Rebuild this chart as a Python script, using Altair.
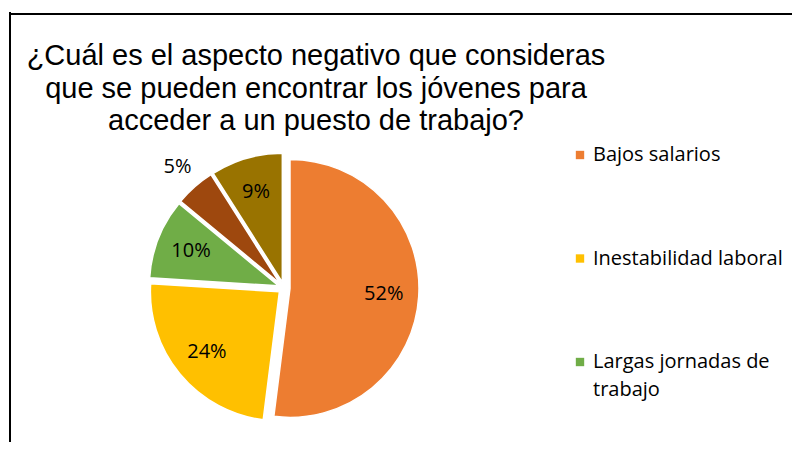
import altair as alt
import pandas as pd

# ---- data ----
categories = ["Bajos salarios", "Inestabilidad laboral", "Largas jornadas de trabajo",
              "Falta de experiencia", "Otros"]
values = [52, 24, 10, 5, 9]
labels = ["52%", "24%", "10%", "5%", "9%"]
colors = ["#ED7D31", "#FFC000", "#70AD47", "#9E480E", "#997300"]
title_lines = ["¿Cuál es el aspecto negativo que consideras",
               "que se pueden encontrar los jóvenes para",
               "acceder a un puesto de trabajo?"]
legend_shown = categories[:3]

df = pd.DataFrame({"cat": categories, "value": values, "label": labels,
                   "order": list(range(len(categories)))})
title_df = pd.DataFrame({"line": title_lines, "i": list(range(len(title_lines)))})
legend_df = pd.DataFrame({"cat": legend_shown, "i": list(range(len(legend_shown)))})

# layout constants (plot-area pixels)
CX, CY, R, EXPLODE = 276, 140, 129, 6
LABEL_R, LABEL_R_OUT = 100, 161
TITLE_X, TITLE_Y0, TITLE_LH = 308, -83, 32.5
LEG_SYM_X, LEG_TXT_X, LEG_Y0, LEG_STEP = 572, 585, 7, 103.5

color_scale = alt.Scale(domain=categories, range=colors)

base = (
    alt.Chart(df)
    .transform_window(cum="sum(value)", sort=[alt.SortField("order")])
    .transform_joinaggregate(total="sum(value)")
    .transform_calculate(
        start="2*PI*(datum.cum - datum.value)/datum.total",
        end="2*PI*datum.cum/datum.total",
    )
    .transform_calculate(mid="(datum.start + datum.end)/2")
    .transform_calculate(
        cx=f"{CX} + {EXPLODE}*sin(datum.mid)",
        cy=f"{CY} - {EXPLODE}*cos(datum.mid)",
        lr=f"datum.value < 6 ? {LABEL_R_OUT} : {LABEL_R}",
    )
    .transform_calculate(
        tx=f"{CX} + datum.lr*sin(datum.mid)",
        ty=f"{CY} - datum.lr*cos(datum.mid)",
    )
)

arcs = base.mark_arc(radius=R, stroke="white", strokeWidth=1.5).encode(
    theta=alt.Theta("start:Q", scale=None, stack=None),
    theta2="end:Q",
    x=alt.X("cx:Q", scale=None, axis=None),
    y=alt.Y("cy:Q", scale=None, axis=None),
    color=alt.Color("cat:N", scale=color_scale, legend=None),
)

texts = base.mark_text(font="Open Sans", fontSize=20, color="black").encode(
    x=alt.X("tx:Q", scale=None, axis=None),
    y=alt.Y("ty:Q", scale=None, axis=None),
    text="label:N",
)

title = (
    alt.Chart(title_df)
    .transform_calculate(ty=f"{TITLE_Y0} + datum.i*{TITLE_LH}")
    .mark_text(font="Liberation Sans", fontSize=29, color="black",
               align="center", baseline="alphabetic")
    .encode(x=alt.value(TITLE_X), y=alt.Y("ty:Q", scale=None, axis=None),
            text="line:N")
)

# legend (only the entries visible in the reference)
leg_base = alt.Chart(legend_df).transform_calculate(
    ly=f"{LEG_Y0} + datum.i*{LEG_STEP}",
    txt="datum.cat == 'Largas jornadas de trabajo' ? 'Largas jornadas de|trabajo' : datum.cat",
)
leg_sym = leg_base.mark_square(size=70, opacity=1).encode(
    x=alt.value(LEG_SYM_X),
    y=alt.Y("ly:Q", scale=None, axis=None),
    color=alt.Color("cat:N", scale=color_scale, legend=None),
)
leg_txt = leg_base.mark_text(font="Open Sans", fontSize=20, color="black",
                             align="left", baseline="middle",
                             lineBreak="|", lineHeight=28).encode(
    x=alt.value(LEG_TXT_X),
    y=alt.Y("ly:Q", scale=None, axis=None),
    text="txt:N",
)

one = pd.DataFrame({"k": [0]})
frame_left = alt.Chart(one).mark_rule(color="black", strokeWidth=2).encode(
    x=alt.value(2), y=alt.value(-136), y2=alt.value(294))
frame_top = alt.Chart(one).mark_rule(color="black", strokeWidth=2).encode(
    x=alt.value(1), x2=alt.value(784), y=alt.value(-134))

chart = (
    alt.layer(frame_left, frame_top, title, arcs, texts, leg_sym, leg_txt)
    .properties(
        width=784, height=294, autosize="none", background="white",
        padding={"left": 0, "top": 140, "right": 0, "bottom": 0},
    )
    .configure_view(stroke=None, strokeWidth=0)
)

chart.save("out.html", embed_options={"renderer": "svg", "actions": False})
